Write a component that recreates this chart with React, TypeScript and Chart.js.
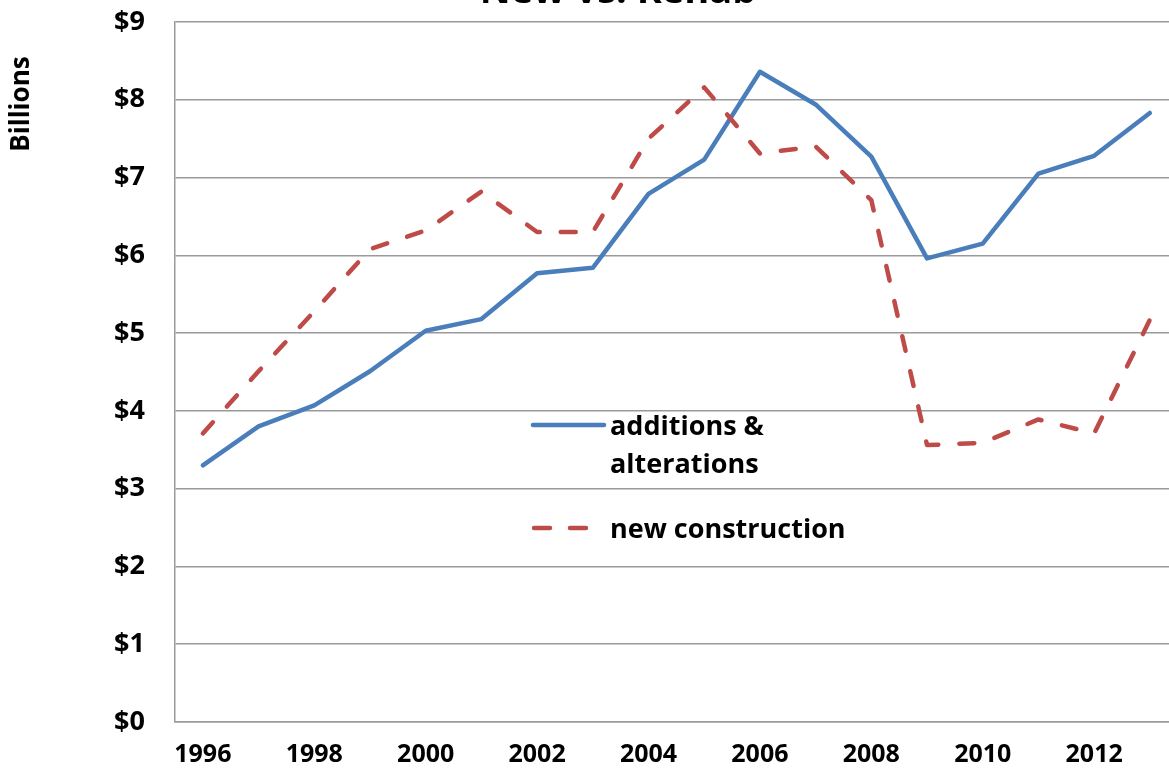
import React, { useEffect, useRef } from "react";
import { Chart, registerables } from "chart.js";

Chart.register(...registerables);

const years = ["1996","1997","1998","1999","2000","2001","2002","2003","2004","2005","2006","2007","2008","2009","2010","2011","2012","2013"];
const additions = [3.30, 3.80, 4.07, 4.51, 5.03, 5.18, 5.77, 5.84, 6.79, 7.23, 8.36, 7.94, 7.27, 5.96, 6.15, 7.05, 7.28, 7.83];
const newConstruction = [3.71, 4.51, 5.28, 6.08, 6.32, 6.82, 6.30, 6.30, 7.50, 8.16, 7.31, 7.40, 6.71, 3.56, 3.59, 3.89, 3.71, 5.17];
const seriesNames = ["additions &", "alterations", "new construction"];
const titleText = "New vs. Rehab";
const yAxisTitle = "Billions";

const BLUE = "#4A7EBB";
const RED = "#BE4B48";
const FONT = '"Open Sans", "DejaVu Sans", sans-serif';

const overlayPlugin = {
  id: "overlay",
  afterDraw(chart: any) {
    const ctx = chart.ctx;
    ctx.save();
    ctx.fillStyle = "#000";
    ctx.font = `bold 38px ${FONT}`;
    ctx.textAlign = "center";
    ctx.textBaseline = "alphabetic";
    ctx.fillText(titleText, 618, 3);
    ctx.save();
    ctx.translate(22, 104);
    ctx.rotate(-Math.PI / 2);
    ctx.font = `bold 26px ${FONT}`;
    ctx.textAlign = "center";
    ctx.textBaseline = "middle";
    ctx.fillText(yAxisTitle, 0, 0);
    ctx.restore();
    ctx.lineCap = "round";
    ctx.lineWidth = 4.5;
    ctx.strokeStyle = BLUE;
    ctx.setLineDash([]);
    ctx.beginPath();
    ctx.moveTo(533, 425);
    ctx.lineTo(604, 425);
    ctx.stroke();
    ctx.strokeStyle = RED;
    ctx.setLineDash([16, 20]);
    ctx.beginPath();
    ctx.moveTo(534, 528);
    ctx.lineTo(590, 528);
    ctx.stroke();
    ctx.setLineDash([]);
    ctx.font = `bold 27px ${FONT}`;
    ctx.textAlign = "left";
    ctx.textBaseline = "alphabetic";
    ctx.fillStyle = "#000";
    ctx.fillText(seriesNames[0], 610, 435);
    ctx.fillText(seriesNames[1], 610, 473);
    ctx.fillText(seriesNames[2], 610, 538);
    ctx.restore();
  },
};

export default function App() {
  const ref = useRef<HTMLCanvasElement | null>(null);
  useEffect(() => {
    if (!ref.current) return;
    const chart = new Chart(ref.current, {
      type: "line",
      data: {
        labels: years,
        datasets: [
          {
            label: "new construction",
            data: newConstruction,
            borderColor: RED,
            backgroundColor: RED,
            borderWidth: 4.5,
            borderDash: [15, 21],
            borderCapStyle: "round",
            borderJoinStyle: "round",
            pointRadius: 0,
            tension: 0,
            order: 0,
          },
          {
            label: "additions & alterations",
            data: additions,
            borderColor: BLUE,
            backgroundColor: BLUE,
            borderWidth: 4.5,
            borderCapStyle: "round",
            borderJoinStyle: "round",
            pointRadius: 0,
            tension: 0,
            order: 1,
          },
        ],
      },
      options: {
        responsive: false,
        animation: false,
        layout: { padding: { top: 22, right: 22.3, left: 0, bottom: 0 } },
        plugins: { legend: { display: false }, tooltip: { enabled: false }, title: { display: false } },
        scales: {
          x: {
            offset: true,
            grid: { display: false, drawTicks: false },
            border: { display: true, color: "#9a9a9a", width: 1.5 },
            ticks: {
              autoSkip: false,
              maxRotation: 0,
              padding: 18,
              color: "#000",
              font: { family: FONT, size: 25, weight: "bold" },
              callback: (_v: any, i: number) => (i % 2 === 0 ? years[i] : ""),
            },
            afterFit: (s: any) => { s.height = 49; s.paddingLeft = 0; s.paddingRight = 0; },
          },
          y: {
            min: 0,
            max: 9,
            grid: { color: "#9a9a9a", lineWidth: 1.5, drawTicks: false },
            border: { display: true, color: "#9a9a9a", width: 1.5 },
            ticks: {
              stepSize: 1,
              padding: 30,
              color: "#000",
              font: { family: FONT, size: 27, weight: "bold" },
              callback: (v: any) => "$" + v,
            },
            afterFit: (s: any) => { s.width = 175; s.paddingTop = 0; s.paddingBottom = 0; },
          },
        },
      },
      plugins: [overlayPlugin],
    });
    return () => chart.destroy();
  }, []);
  return (
    <div style={{ position: "absolute", left: 0, top: 0, width: 1169, height: 771, overflow: "hidden", background: "#fff" }}>
      <canvas ref={ref} width={1200} height={771} style={{ width: 1200, height: 771, display: "block" }} />
    </div>
  );
}
